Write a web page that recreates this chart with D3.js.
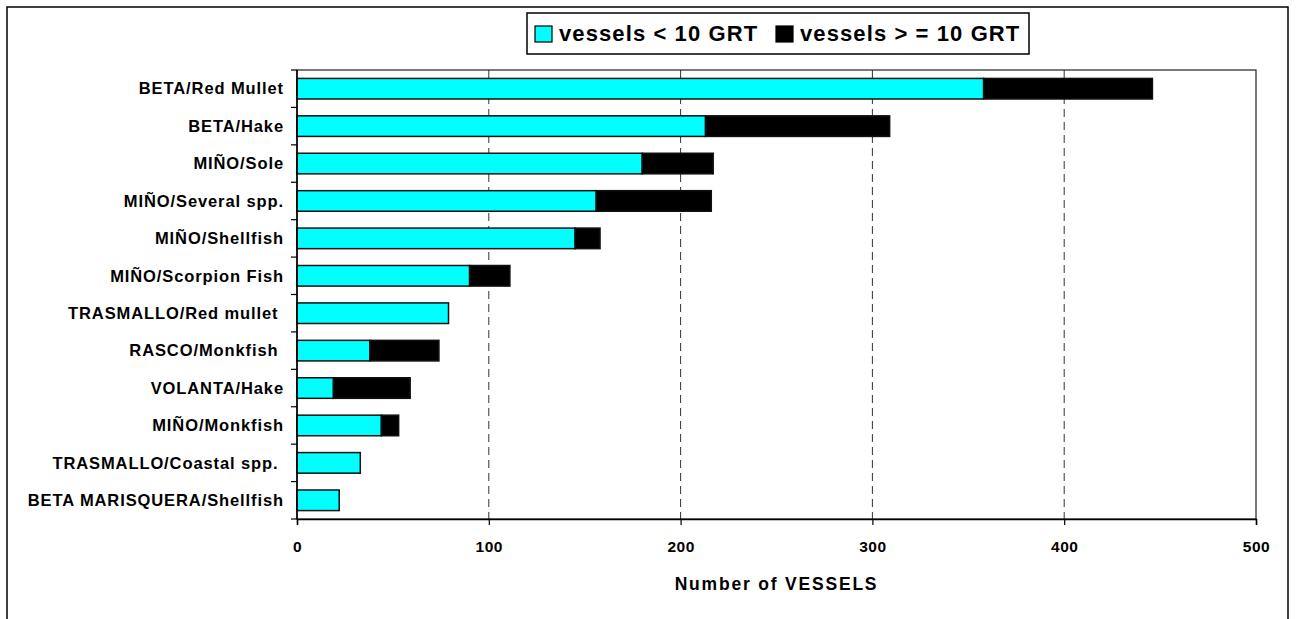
<!DOCTYPE html>
<html>
<head>
<meta charset="utf-8">
<script src="https://d3js.org/d3.v7.min.js"></script>
<style>
  body { margin: 0; background: #fff; }
  text { font-family: "Liberation Sans", Arial, sans-serif; font-weight: bold; fill: #000; white-space: pre; }
</style>
</head>
<body>
<script>
var categories = ["BETA/Red Mullet", "BETA/Hake", "MIÑO/Sole", "MIÑO/Several spp.", "MIÑO/Shellfish",
  "MIÑO/Scorpion Fish", "TRASMALLO/Red mullet ", "RASCO/Monkfish ", "VOLANTA/Hake", "MIÑO/Monkfish",
  "TRASMALLO/Coastal spp. ", "BETA MARISQUERA/Shellfish"];
var small = [358, 213, 180, 156, 145, 90, 79, 38, 19, 44, 33, 22];
var large = [88, 96, 37, 60, 13, 21, 0, 36, 40, 9, 0, 0];
var seriesNames = ["vessels < 10 GRT", "vessels > = 10 GRT"];
var colors = ["#00FFFF", "#000000"];
var xTicks = [0, 100, 200, 300, 400, 500];

var w = 1296;
var h = 619;
var plotLeft = 297, plotRight = 1256, plotTop = 70, plotBottom = 519;

var svg = d3.select("body")
  .append("svg")
  .attr("width", w)
  .attr("height", h);

// outer frame
svg.append("rect")
  .attr("x", 7).attr("y", 7)
  .attr("width", 1281).attr("height", 640)
  .attr("fill", "none")
  .attr("stroke", "#000")
  .attr("stroke-width", 1.5);

var xScale = d3.scaleLinear()
  .domain([0, 500])
  .range([plotLeft, plotRight]);

var yScale = d3.scaleBand()
  .domain(categories)
  .range([plotTop, plotBottom])
  .paddingInner(0.45)
  .paddingOuter(0.225);

// gridlines
svg.selectAll("line.grid")
  .data(xTicks.slice(1, -1))
  .enter()
  .append("line")
  .attr("class", "grid")
  .attr("x1", function(d) { return xScale(d); })
  .attr("x2", function(d) { return xScale(d); })
  .attr("y1", plotTop)
  .attr("y2", plotBottom)
  .attr("stroke", "#333")
  .attr("stroke-width", 1)
  .attr("stroke-dasharray", "8,5");

// plot area border
svg.append("rect")
  .attr("x", plotLeft).attr("y", plotTop)
  .attr("width", plotRight - plotLeft).attr("height", plotBottom - plotTop)
  .attr("fill", "none")
  .attr("stroke", "#222")
  .attr("stroke-width", 1.2);

var stacked = d3.stack().keys([0, 1])
  .value(function(d, k) { return k === 0 ? small[d] : large[d]; })(d3.range(categories.length));

svg.selectAll("g.series")
  .data(stacked)
  .enter()
  .append("g")
  .attr("class", "series")
  .attr("fill", function(d, i) { return colors[i]; })
  .selectAll("rect")
  .data(function(d) { return d.filter(function(p) { return p[1] > p[0]; }); })
  .enter()
  .append("rect")
  .attr("x", function(d) { return xScale(d[0]); })
  .attr("y", function(d) { return yScale(categories[d.data]); })
  .attr("width", function(d) { return xScale(d[1]) - xScale(d[0]); })
  .attr("height", yScale.bandwidth())
  .attr("stroke", "#111")
  .attr("stroke-width", 1.5);

// x axis
var xAxis = svg.append("g")
  .attr("transform", "translate(0," + plotBottom + ")")
  .call(d3.axisBottom(xScale).tickValues(xTicks).tickSize(6).tickPadding(16));
xAxis.select(".domain").attr("stroke", "#000").attr("stroke-width", 1.5);
xAxis.selectAll("line").attr("stroke", "#000").attr("stroke-width", 1.2);
xAxis.selectAll("text")
  .style("font-size", "15.5px")
  .style("letter-spacing", "0.5px");

// y axis with ticks between categories
var step = yScale.step();
svg.append("line")
  .attr("x1", plotLeft).attr("x2", plotLeft)
  .attr("y1", plotTop).attr("y2", plotBottom)
  .attr("stroke", "#000").attr("stroke-width", 1.5);
svg.selectAll("line.ytick")
  .data(d3.range(categories.length + 1))
  .enter()
  .append("line")
  .attr("class", "ytick")
  .attr("x1", plotLeft - 6).attr("x2", plotLeft)
  .attr("y1", function(i) { return plotTop + i * step; })
  .attr("y2", function(i) { return plotTop + i * step; })
  .attr("stroke", "#000").attr("stroke-width", 1.2);

svg.selectAll("text.cat")
  .data(categories)
  .enter()
  .append("text")
  .attr("class", "cat")
  .attr("x", 284)
  .attr("y", function(d) { return yScale(d) + yScale.bandwidth() / 2; })
  .attr("dy", "0.35em")
  .attr("text-anchor", "end")
  .style("font-size", "16.5px")
  .style("letter-spacing", "0.9px")
  .text(function(d) { return d; });

svg.append("text")
  .attr("x", (plotLeft + plotRight) / 2)
  .attr("y", 590)
  .attr("text-anchor", "middle")
  .style("font-size", "17.5px")
  .style("letter-spacing", "1.8px")
  .text("Number of VESSELS");

// legend
var legend = svg.append("g");
legend.append("rect")
  .attr("x", 527).attr("y", 13)
  .attr("width", 502).attr("height", 41)
  .attr("fill", "#fff")
  .attr("stroke", "#000")
  .attr("stroke-width", 1.5);

var legendX = [535, 776];
var items = legend.selectAll("g.item")
  .data(seriesNames)
  .enter()
  .append("g")
  .attr("class", "item")
  .attr("transform", function(d, i) { return "translate(" + legendX[i] + ",0)"; });
items.append("rect")
  .attr("x", 0).attr("y", 26)
  .attr("width", 17).attr("height", 16)
  .attr("fill", function(d, i) { return colors[i]; })
  .attr("stroke", "#000")
  .attr("stroke-width", 1.2);
items.append("text")
  .attr("x", 24)
  .attr("y", 41)
  .style("font-size", "22px")
  .style("letter-spacing", "1.1px")
  .text(function(d) { return d; });
</script>
</body>
</html>
